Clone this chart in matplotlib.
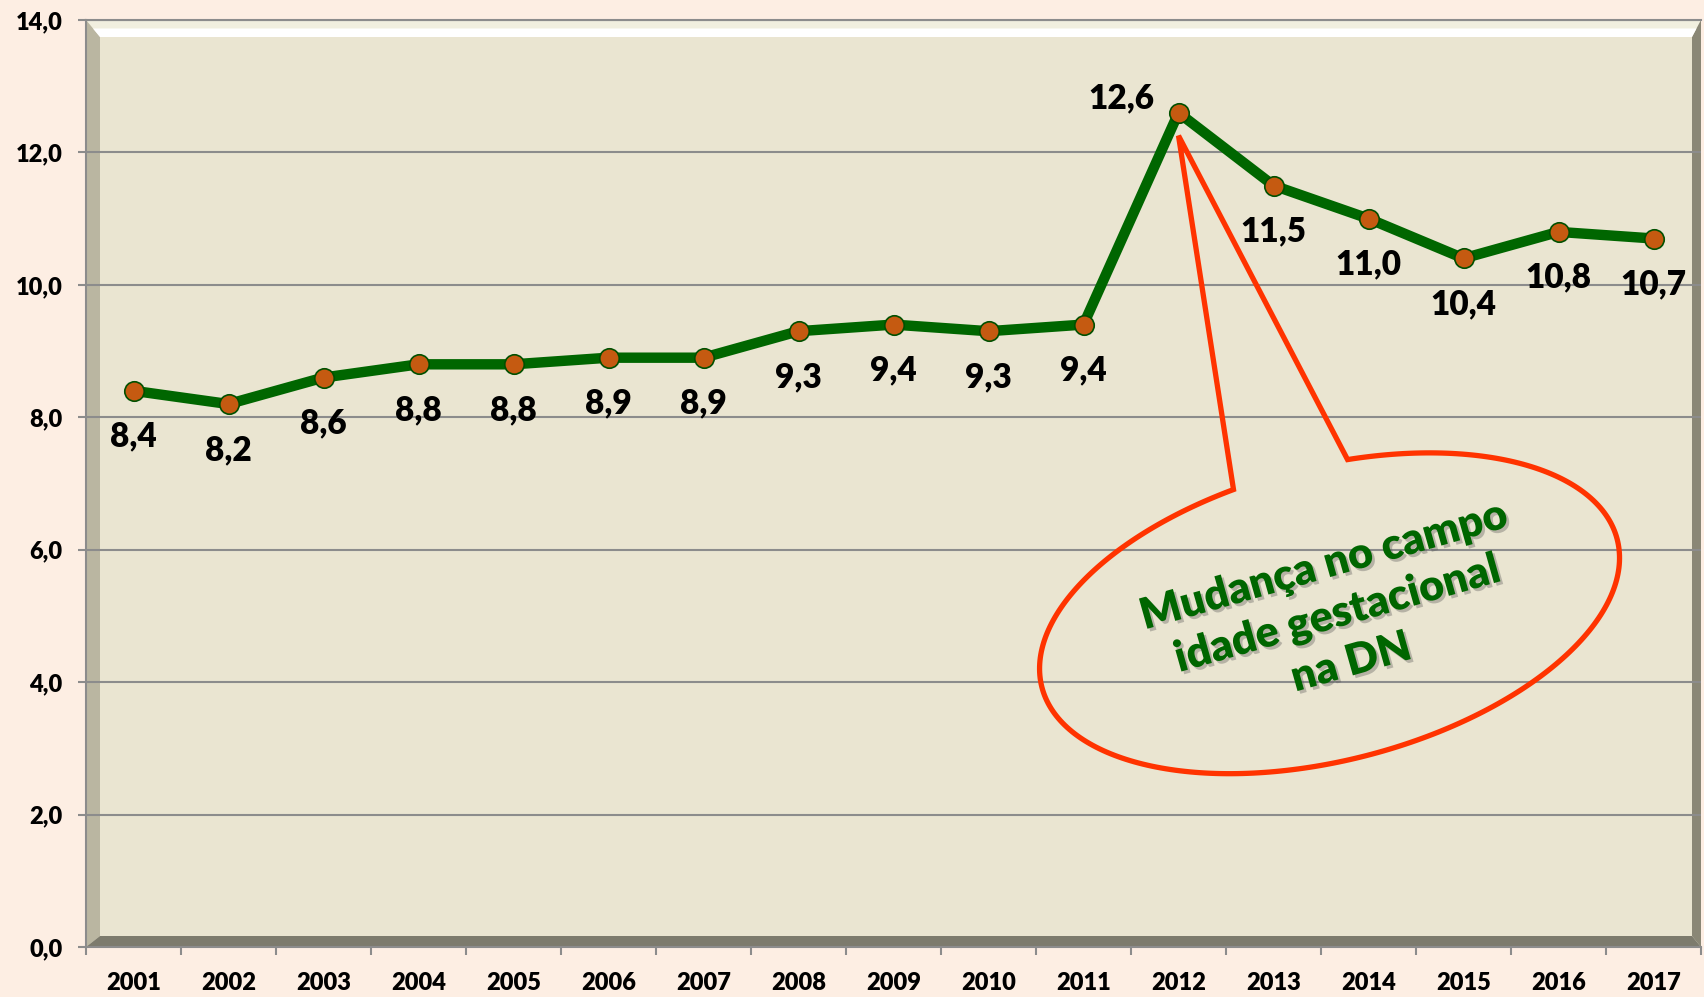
#!/usr/bin/env python3
# Line chart with a callout balloon pointing at 2012

import numpy as np
import matplotlib
matplotlib.use("Agg")
import matplotlib.pyplot as plt
from matplotlib.patches import Polygon
from matplotlib.transforms import IdentityTransform
import matplotlib.patheffects as pe

# Data
years = ['2001', '2002', '2003', '2004', '2005', '2006', '2007', '2008', '2009',
         '2010', '2011', '2012', '2013', '2014', '2015', '2016', '2017']
values = [8.4, 8.2, 8.6, 8.8, 8.8, 8.9, 8.9, 9.3, 9.4, 9.3, 9.4, 12.6, 11.5,
          11.0, 10.4, 10.8, 10.7]
y_ticks = [0, 2, 4, 6, 8, 10, 12, 14]
note_text = 'Mudança no campo\nidade gestacional\nna DN'

W, H, DPI = 1704, 997, 100
FONT = ['Lato', 'DejaVu Sans']
plt.rcParams['font.family'] = FONT

fig = plt.figure(figsize=(W / DPI, H / DPI), dpi=DPI, facecolor='#FDEEE3')
ax = fig.add_axes([86 / W, 50 / H, 1615 / W, 927 / H])
ax.set_facecolor('#EAE5D1')

x = np.arange(len(years))
ax.set_xlim(-0.5, len(years) - 0.5)
ax.set_ylim(0, 14)

# bevel frame of the plot area (axes fraction units)
l, r, t, b = 14 / 1615, 9 / 1615, 17 / 927, 11 / 927
bevels = [
    ([(0, 1), (1, 1), (1 - r, 1 - t), (l, 1 - t)], '#F1EFDF'),
    ([(0, 0), (0, 1), (l, 1 - t), (l, b)], '#BAB6A1'),
    ([(1, 0), (1, 1), (1 - r, 1 - t), (1 - r, b)], '#8A8776'),
    ([(0, 0), (1, 0), (1 - r, b), (l, b)], '#7D7B6D'),
]
for pts, col in bevels:
    ax.add_patch(Polygon(pts, closed=True, transform=ax.transAxes,
                         facecolor=col, edgecolor='none', zorder=0.2))
# white highlight strip under the top edge
ax.add_patch(Polygon([(l * 0.5, 1 - t * 0.5), (1 - r * 0.5, 1 - t * 0.5),
                      (1 - r, 1 - t), (l, 1 - t)], closed=True,
                     transform=ax.transAxes, facecolor='white',
                     edgecolor='none', zorder=0.25))

ax.set_axisbelow(True)
ax.yaxis.grid(True, color='#8C8C8C', lw=1.5)
ax.set_yticks(y_ticks)
ax.set_yticklabels([f'{v:.1f}'.replace('.', ',') for v in y_ticks])

ax.set_xticks(x)
ax.set_xticklabels(years)
ax.set_xticks(np.arange(len(years) + 1) - 0.5, minor=True)
ax.tick_params(axis='x', which='major', length=0, pad=18)
ax.tick_params(axis='x', which='minor', length=6, width=1.5, color='#8C8C8C')
ax.tick_params(axis='y', length=6, width=1.5, color='#8C8C8C', pad=11)
for lab in ax.get_xticklabels() + ax.get_yticklabels():
    lab.set_fontsize(17)
    lab.set_fontweight('heavy')

for side in ['left', 'bottom', 'top']:
    ax.spines[side].set_color('#8C8C8C')
    ax.spines[side].set_linewidth(1.5)
ax.spines['right'].set_visible(False)

# main series
ax.plot(x, values, color='#006600', lw=7.5, marker='o', ms=14,
        mfc='#C55A11', mec='#005000', mew=1.2, zorder=3,
        solid_joinstyle='miter')

# value labels
for i, v in enumerate(values):
    txt = f'{v:.1f}'.replace('.', ',')
    if years[i] == '2012':
        off = (-41, 10)
    else:
        off = (0, -33)
    ax.annotate(txt, (x[i], v), xytext=off, textcoords='offset points',
                ha='center', va='center', fontsize=24, fontweight='heavy',
                color='black', zorder=5)

# callout balloon (ellipse in pixels, anchored in data units)
fig.canvas.draw()
peak = years.index('2012')
tip = ax.transData.transform((x[peak], values[peak])) + np.array([0, -23])
cx, cy = ax.transData.transform((12.59, 5.04))
a, bb, th = 297, 147, np.deg2rad(14.4)
phi = np.deg2rad(np.linspace(102.1, 79.2 + 360, 300))
ex = cx + a * np.cos(phi) * np.cos(th) - bb * np.sin(phi) * np.sin(th)
ey = cy + a * np.cos(phi) * np.sin(th) + bb * np.sin(phi) * np.cos(th)
pts = np.vstack([np.column_stack([ex, ey]), tip])
ax.add_patch(Polygon(pts, closed=True, transform=IdentityTransform(),
                     facecolor='none', edgecolor='#FF3300', lw=3.8,
                     joinstyle='miter', zorder=4))

ax.text(12.67, 5.03, note_text, ha='center', va='center',
        multialignment='center', rotation=15.8, rotation_mode='anchor',
        fontsize=31, fontweight='heavy', color='#006600', linespacing=1.3,
        zorder=5,
        path_effects=[pe.withSimplePatchShadow(offset=(2, -2),
                                               shadow_rgbFace='#555555',
                                               alpha=0.35)])

fig.savefig('out.png', dpi=DPI, facecolor=fig.get_facecolor())
